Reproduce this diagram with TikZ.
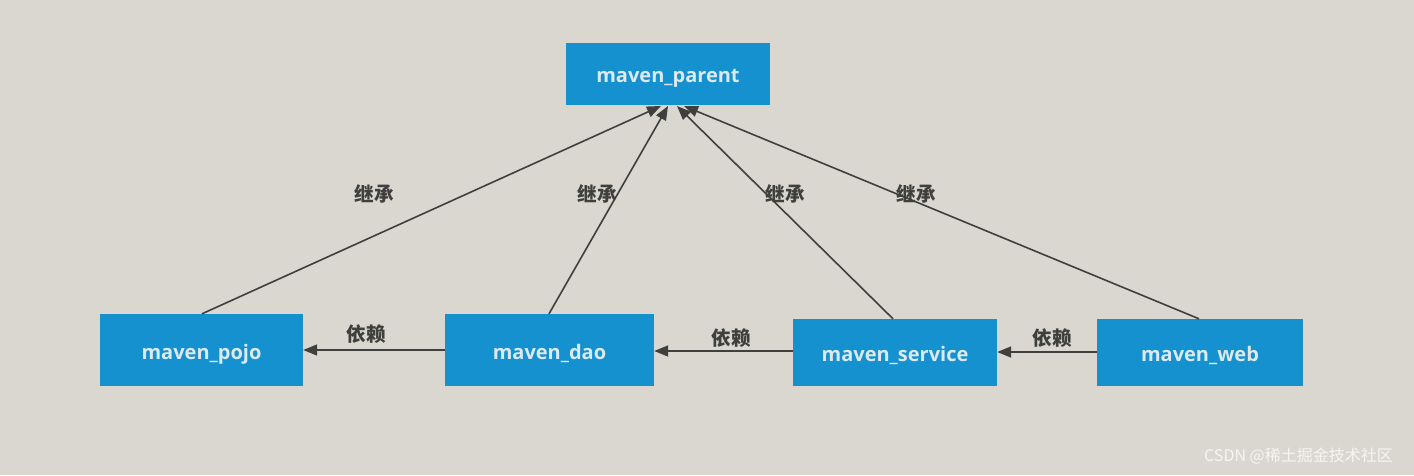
\documentclass[tikz,border=0pt]{standalone}
\usepackage{fontspec}
\setmainfont{Open Sans}
\newfontfamily\cjk{Noto Sans CJK SC}
\usetikzlibrary{arrows.meta}
\definecolor{bg}{HTML}{D9D7D0}
\definecolor{boxblue}{HTML}{1591D0}
\definecolor{boxtext}{HTML}{DCEAF0}
\definecolor{linegray}{HTML}{3F3F3D}
\begin{document}
\begin{tikzpicture}[x=1pt,y=-1pt,
  mod/.style={draw=none,fill=boxblue,text=boxtext,font=\fontsize{20}{23}\selectfont\bfseries,inner sep=0pt,anchor=center,text depth=0pt},
  conn/.style={draw=linegray,line width=1.6pt,-{Triangle[length=14pt,width=11pt]}},
  lab/.style={font=\cjk\fontsize{19.5}{21}\selectfont\bfseries,text=linegray,inner sep=0pt}]
\fill[bg] (0,0) rectangle (1414,475);
\useasboundingbox (0,0) rectangle (1414,475);
\node[mod,minimum width=204pt,minimum height=62pt] (parent) at (668,74) {\raisebox{-3pt}{maven\_parent}};
\node[mod,minimum width=203pt,minimum height=72pt] (pojo) at (201.5,350) {\raisebox{-3pt}{maven\_pojo}};
\node[mod,minimum width=209pt,minimum height=72pt] (dao) at (549.5,350) {\raisebox{-3pt}{maven\_dao}};
\node[mod,minimum width=204pt,minimum height=67pt] (service) at (895,352.5) {\raisebox{-3pt}{maven\_service}};
\node[mod,minimum width=206pt,minimum height=67pt] (web) at (1200,352.5) {\raisebox{-3pt}{maven\_web}};
\coordinate (p1) at (661,106);
\coordinate (p2) at (668,106);
\coordinate (p3) at (677,106);
\coordinate (p4) at (684,106);
\draw[conn] (pojo.north) ++(0.5,0) -- (p1);
\draw[conn] (dao.north) ++(-0.5,0) -- (p2);
\draw[conn] (service.north) ++(-2,0) -- (p3);
\draw[conn] (web.north) ++(-1,0) -- (p4);
\draw[conn] (dao.west |- 0,350) -- (pojo.east |- 0,350);
\draw[conn] (service.west |- 0,351) -- (dao.east |- 0,351);
\draw[conn] (web.west |- 0,352) -- (service.east |- 0,352);
\node[lab] (l1) at (374,194) {继承};
\node[lab] (l2) at (597,194) {继承};
\node[lab] (l3) at (785,194) {继承};
\node[lab] (l4) at (916,194) {继承};
\node[lab] (d1) at (366,334) {依赖};
\node[lab] (d2) at (731,338) {依赖};
\node[lab] (d3) at (1052,338) {依赖};
\node[font=\cjk\fontsize{16}{18}\selectfont,text=white!75!bg,anchor=east,inner sep=0pt] (wm1) at (1393,456) {CSDN @稀土掘金技术社区};
\end{tikzpicture}
\end{document}
